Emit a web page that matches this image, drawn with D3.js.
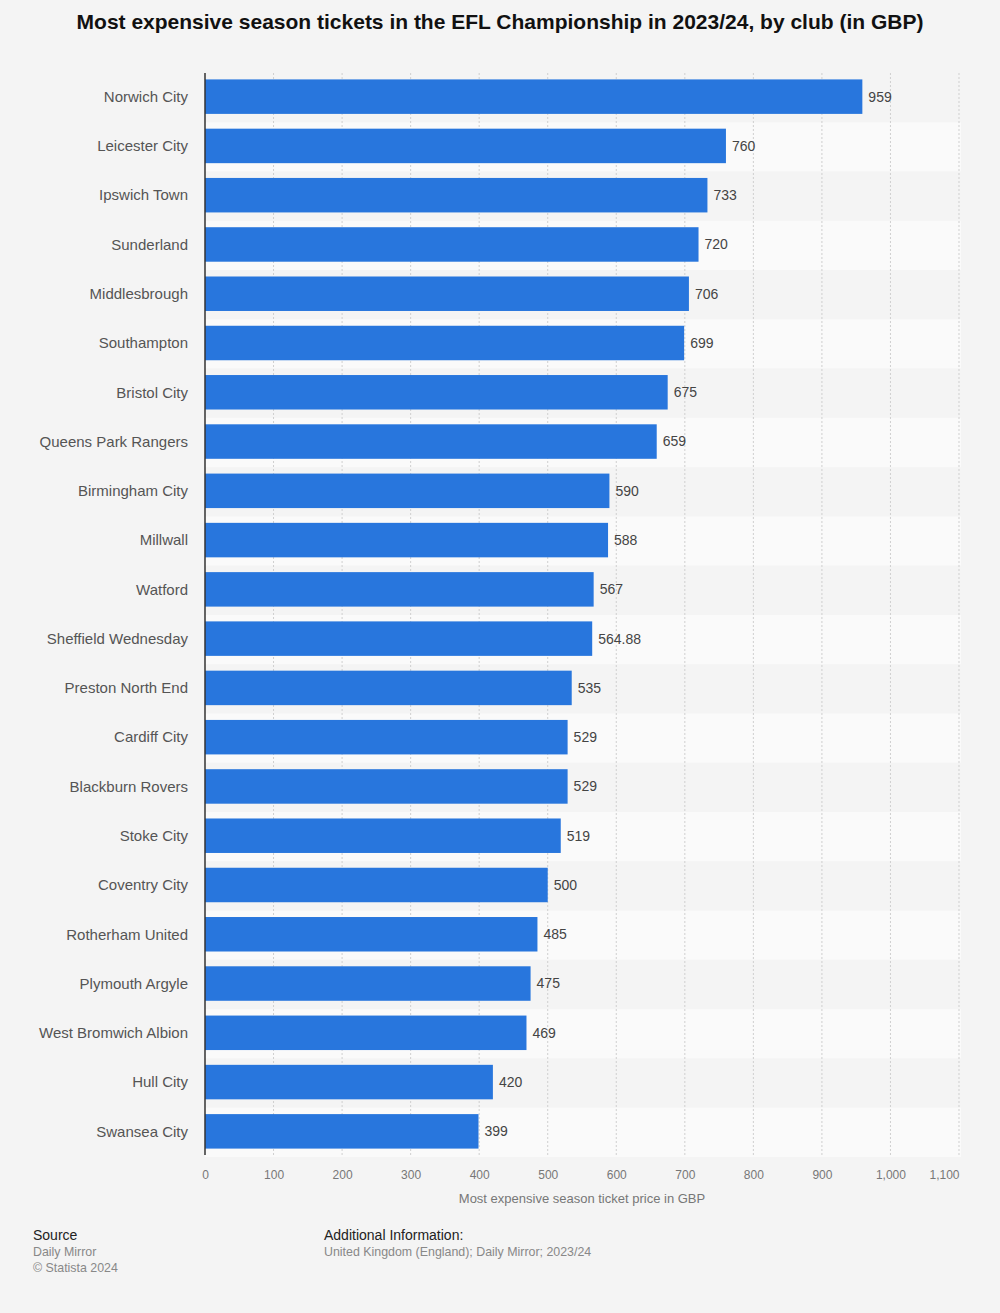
<!DOCTYPE html>
<html><head><meta charset="utf-8">
<script src="https://cdn.jsdelivr.net/npm/d3@7"></script>
<style>
html,body{margin:0;padding:0;background:#f4f4f4;}
svg{display:block;font-family:"Liberation Sans",Arial,sans-serif;}
</style></head><body>
<svg id="chart" width="1000" height="1313"></svg>
<script>
const clubs = ["Norwich City","Leicester City","Ipswich Town","Sunderland","Middlesbrough","Southampton","Bristol City","Queens Park Rangers","Birmingham City","Millwall","Watford","Sheffield Wednesday","Preston North End","Cardiff City","Blackburn Rovers","Stoke City","Coventry City","Rotherham United","Plymouth Argyle","West Bromwich Albion","Hull City","Swansea City"];
const prices = [959,760,733,720,706,699,675,659,590,588,567,564.88,535,529,529,519,500,485,475,469,420,399];
const tickValues = [0,100,200,300,400,500,600,700,800,900,1000,1100];

(function(){
const svg = d3.select("#chart");
const pl = 205, pr = 959, pt = 73, pb = 1155;
const x = d3.scaleLinear().domain([0,1100]).range([pl,pr]);
const y = d3.scaleBand().domain(clubs).range([pt,pb]).paddingInner(0.3).paddingOuter(0.13);
const step = y.step();

svg.append("text").attr("x",500).attr("y",29).attr("text-anchor","middle")
  .attr("font-size",21).attr("font-weight","bold").attr("fill","#111")
  .text("Most expensive season tickets in the EFL Championship in 2023/24, by club (in GBP)");

svg.append("g").selectAll("rect").data(clubs).join("rect")
  .attr("x",pl).attr("width",pr-pl+2)
  .attr("y",(d,i)=>pt+i*step).attr("height",step)
  .attr("fill",(d,i)=>i%2===0?"#f4f4f4":"#fafafa");

svg.append("g").selectAll("line").data(tickValues.slice(1)).join("line")
  .attr("x1",d=>x(d)).attr("x2",d=>x(d)).attr("y1",pt).attr("y2",pb)
  .attr("stroke","#cfcfcf").attr("stroke-width",1).attr("stroke-dasharray","2,2");

svg.append("g").selectAll("rect").data(clubs).join("rect")
  .attr("x",x(0)).attr("y",d=>y(d)).attr("height",y.bandwidth())
  .attr("width",(d,i)=>x(prices[i])-x(0)).attr("fill","#2876dd");

svg.append("g").selectAll("text").data(clubs).join("text")
  .attr("x",(d,i)=>x(prices[i])+6).attr("y",d=>y(d)+y.bandwidth()/2).attr("dy","0.35em")
  .attr("font-size",14).attr("fill","#444").text((d,i)=>prices[i]);

svg.append("g").selectAll("text").data(clubs).join("text")
  .attr("x",188).attr("y",d=>y(d)+y.bandwidth()/2).attr("dy","0.35em")
  .attr("text-anchor","end").attr("font-size",15).attr("fill","#555").text(d=>d);

svg.append("line").attr("x1",pl).attr("x2",pl).attr("y1",pt).attr("y2",pb)
  .attr("stroke","#333").attr("stroke-width",1.5);

const fmt = d3.format(",");
const xAxis = d3.axisBottom(x).tickValues(tickValues).tickFormat(fmt).tickSize(0).tickPadding(0);
const gx = svg.append("g").attr("transform",`translate(0,${pb+15})`).call(xAxis);
gx.select(".domain").remove();
gx.selectAll("text").attr("font-size",12).attr("fill","#777").attr("font-family","Liberation Sans, Arial, sans-serif");
gx.selectAll(".tick").filter(d=>d===1100).select("text").attr("text-anchor","end").attr("x",0);

svg.append("text").attr("x",582).attr("y",1203).attr("text-anchor","middle")
  .attr("font-size",13).attr("fill","#777").text("Most expensive season ticket price in GBP");

svg.append("text").attr("x",33).attr("y",1240).attr("font-size",14).attr("fill","#222").text("Source");
svg.append("text").attr("x",33).attr("y",1256).attr("font-size",12.4).attr("fill","#888").text("Daily Mirror");
svg.append("text").attr("x",33).attr("y",1272).attr("font-size",12.4).attr("fill","#888").text("© Statista 2024");
svg.append("text").attr("x",324).attr("y",1240).attr("font-size",14).attr("fill","#222").text("Additional Information:");
svg.append("text").attr("x",324).attr("y",1256).attr("font-size",12.4).attr("fill","#888").text("United Kingdom (England); Daily Mirror; 2023/24");
})();
</script>
</body></html>
